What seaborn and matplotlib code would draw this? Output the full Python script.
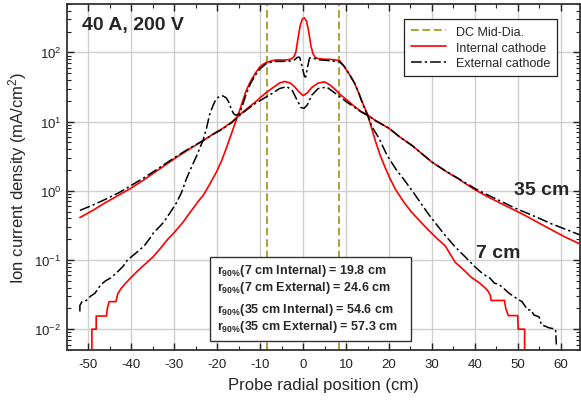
import numpy as np
import pandas as pd
import seaborn as sns
import matplotlib.pyplot as plt
from matplotlib.lines import Line2D
from matplotlib.patches import Rectangle
from matplotlib.ticker import MultipleLocator, LogLocator

# DC mid-diameter positions (cm)
dc_mid = [-8.4, 8.4]

# 7 cm, internal cathode
int7_x = [-49.2, -49.2, -48.2, -48.2, -45.8, -45.6, -45.2, -43.6, -43.2, -42.5, -41.5, -40.2,
          -38.5, -37.0, -35.0, -33.2, -31.5, -30.0, -28.0, -26.0, -24.0, -23.3, -22.0, -20.2,
          -19.0, -17.9, -17.0, -16.0, -15.0, -14.0, -13.3, -12.5, -11.8, -11.0, -10.2, -9.5,
          -8.7, -7.5, -6.4, -5.0, -4.0, -3.0, -2.2, -1.7, -1.2, -0.7, -0.2, 0.3, 0.8, 1.3,
          1.8, 2.3, 2.8, 3.5, 5.0, 6.2, 7.5, 8.5, 9.5, 10.8, 12.0, 13.1, 14.0, 15.0, 16.0,
          16.9, 18.0, 19.2, 20.3, 21.5, 23.5, 25.4, 27.3, 29.2, 31.0, 33.1, 35.4, 37.5, 39.2,
          41.0, 42.3, 43.0, 43.6, 43.8, 46.9, 47.2, 47.8, 50.0, 50.1, 51.6, 51.6]
int7_y = [0.004, 0.01, 0.01, 0.0155, 0.0155, 0.02, 0.025, 0.025, 0.032, 0.038, 0.045, 0.055,
          0.07, 0.085, 0.11, 0.148, 0.2, 0.25, 0.35, 0.52, 0.76, 0.85, 1.17, 1.86,
          2.7, 4.1, 5.9, 8.9, 13.2, 20.4, 27.5, 35.5, 42.7, 51.3, 60.3, 66.1,
          70.8, 75.0, 77.6, 77.6, 77.6, 79.4, 85.1, 100.0, 158.0, 240.0, 302.0, 316.0, 282.0, 200.0,
          126.0, 95.5, 85.1, 81.3, 79.4, 79.4, 77.6, 75.9, 63.1, 47.9, 35.5, 24.5, 17.8, 12.6, 7.9,
          5.1, 3.2, 2.1, 1.48, 1.05, 0.68, 0.48, 0.36, 0.27, 0.21, 0.16, 0.093, 0.071, 0.056,
          0.047, 0.04, 0.036, 0.031, 0.026, 0.026, 0.02, 0.0157, 0.0157, 0.01, 0.01, 0.004]

# 7 cm, external cathode
ext7_x = [-52.0, -52.0, -51.5, -50.5, -49.5, -48.5, -47.1, -46.0, -44.8, -43.5, -42.0, -40.9,
          -39.0, -37.0, -35.6, -34.8, -33.5, -32.5, -31.0, -29.5, -28.3, -27.2, -26.0, -24.8,
          -23.3, -22.5, -21.8, -21.0, -20.3, -19.5, -18.7, -17.9, -17.3, -16.8, -16.2, -15.6,
          -14.8, -14.0, -13.3, -12.2, -11.0, -10.0, -8.7, -7.5, -6.4, -5.0, -3.0, -2.0, -1.3,
          -0.8, -0.3, 0.3, 0.6, 1.0, 1.5, 2.0, 3.6, 5.0, 6.9, 8.5, 9.5, 10.8, 12.0, 13.1,
          14.0, 15.0, 16.0, 17.7, 19.5, 21.5, 23.5, 25.4, 27.3, 29.2, 31.0, 33.0, 35.4, 37.5,
          40.0, 42.0, 43.5, 44.6, 45.5, 46.9, 48.0, 49.0, 50.0, 51.0, 52.3, 53.0, 53.8, 55.0,
          55.5, 56.5, 57.2, 58.8, 59.0]
ext7_y = [0.018, 0.022, 0.025, 0.026, 0.03, 0.033, 0.044, 0.05, 0.055, 0.065, 0.08, 0.1,
          0.125, 0.16, 0.21, 0.25, 0.3, 0.35, 0.48, 0.67, 0.95, 1.48, 2.2, 3.2,
          5.4, 8.0, 12.5, 17.0, 21.0, 23.2, 23.5, 22.0, 19.0, 15.6, 13.0, 12.3,
          13.2, 18.0, 24.5, 36.0, 48.0, 58.0, 68.0, 72.0, 74.0, 74.0, 75.0, 78.0, 85.0,
          85.0, 65.0, 45.0, 44.0, 60.0, 83.0, 84.0, 78.0, 77.0, 75.0, 73.0, 64.0, 48.0, 36.0, 24.5,
          17.0, 12.5, 8.5, 5.7, 3.3, 2.1, 1.45, 1.0, 0.68, 0.46, 0.33, 0.23, 0.155, 0.115,
          0.08, 0.062, 0.055, 0.046, 0.045, 0.038, 0.033, 0.03, 0.027, 0.025, 0.019, 0.019, 0.016, 0.015,
          0.0115, 0.011, 0.0105, 0.01, 0.006]

# 35 cm, internal cathode
int35_x = [-52.0, -49.0, -46.3, -43.0, -40.0, -37.0, -34.0, -30.0, -26.5, -23.3, -20.5, -18.7,
           -16.5, -14.8, -13.0, -11.0, -8.7, -7.0, -5.5, -4.3, -3.0, -2.0, -1.0, 0.0, 1.0, 2.0,
           3.5, 5.0, 6.2, 7.5, 8.5, 10.0, 12.0, 13.5, 15.0, 17.0, 20.0, 22.5, 25.4, 27.5, 30.0,
           33.0, 36.2, 38.0, 40.1, 43.0, 46.0, 49.4, 52.0, 55.0, 58.0, 61.0, 64.5]
int35_y = [0.41, 0.52, 0.66, 0.86, 1.1, 1.45, 1.95, 2.9, 4.0, 5.3, 6.9, 8.0,
           10.0, 12.5, 15.5, 19.5, 26.0, 31.0, 36.0, 38.0, 36.0, 32.0, 27.0, 23.7, 26.0, 31.0,
           36.0, 37.5, 34.0, 29.0, 25.0, 21.0, 16.5, 14.0, 12.5, 10.2, 8.0, 6.0, 4.5, 3.5, 2.6,
           1.95, 1.48, 1.25, 1.03, 0.82, 0.66, 0.52, 0.43, 0.34, 0.27, 0.215, 0.17]

# 35 cm, external cathode
ext35_x = [-52.0, -49.0, -46.3, -43.0, -40.0, -37.0, -34.0, -30.0, -26.5, -23.3, -20.5, -18.7,
           -16.5, -14.8, -13.0, -11.0, -8.7, -7.0, -5.5, -3.8, -2.5, -1.5, -0.5, 0.2, 1.0, 2.0,
           3.5, 5.5, 7.0, 8.5, 10.0, 12.0, 13.5, 15.0, 17.0, 20.0, 22.5, 25.4, 27.5, 30.0, 33.0,
           36.2, 38.0, 40.1, 43.0, 46.0, 49.4, 52.0, 55.0, 58.0, 61.0, 64.5]
ext35_y = [0.52, 0.62, 0.74, 0.93, 1.2, 1.55, 2.05, 3.0, 4.1, 5.3, 6.8, 7.8,
           9.8, 12.3, 15.0, 18.5, 22.5, 26.0, 30.0, 32.0, 28.0, 21.0, 16.0, 15.5, 17.5, 24.0,
           30.0, 31.5, 27.0, 23.0, 19.5, 16.0, 13.8, 12.3, 10.2, 8.0, 6.0, 4.5, 3.5, 2.6, 1.97,
           1.5, 1.28, 1.07, 0.87, 0.71, 0.56, 0.48, 0.4, 0.33, 0.28, 0.23]

r90_lines = ["7 cm Internal) = 19.8 cm", "7 cm External) = 24.6 cm",
             "35 cm Internal) = 54.6 cm", "35 cm External) = 57.3 cm"]

sns.set_style("ticks")
plt.rcParams['font.family'] = ['Liberation Sans', 'DejaVu Sans']
plt.rcParams['mathtext.fontset'] = 'custom'
plt.rcParams['mathtext.rm'] = 'Liberation Sans'
plt.rcParams['mathtext.it'] = 'Liberation Sans:italic'
plt.rcParams['mathtext.bf'] = 'Liberation Sans:bold'
plt.rcParams['mathtext.default'] = 'regular'
plt.rcParams['axes.unicode_minus'] = False

fig = plt.figure(figsize=(5.81, 4.02), dpi=100)
ax = fig.add_axes([67 / 581, 1 - 351 / 402, 513 / 581, 346 / 402])

red = '#ff0000'
olive = '#8c8c00'
dashdot = (0, (7, 2, 1.5, 2))

for xv in dc_mid:
    ax.axvline(xv, color=olive, lw=1.1, linestyle=(0, (5, 2.5)), zorder=2)

sns.lineplot(x=int7_x, y=int7_y, ax=ax, color=red, lw=1.2, estimator=None, sort=False, zorder=3)
sns.lineplot(x=int35_x, y=int35_y, ax=ax, color=red, lw=1.2, estimator=None, sort=False, zorder=3)
sns.lineplot(x=ext7_x, y=ext7_y, ax=ax, color='black', lw=1.1, linestyle=dashdot,
             estimator=None, sort=False, zorder=4)
sns.lineplot(x=ext35_x, y=ext35_y, ax=ax, color='black', lw=1.1, linestyle=dashdot,
             estimator=None, sort=False, zorder=4)

ax.set_yscale('log')
ax.set_xlim(-55, 64.5)
ax.set_ylim(0.005, 500)
ax.xaxis.set_major_locator(MultipleLocator(10))
ax.xaxis.set_minor_locator(MultipleLocator(5))
ax.yaxis.set_major_locator(LogLocator(base=10))
ax.yaxis.set_minor_locator(LogLocator(base=10, subs=np.arange(2, 10)))
ax.grid(True, which='major', color='#cfcfcf', lw=1.0)
ax.set_axisbelow(True)

ax.tick_params(which='both', direction='in', top=True, right=True, labelsize=9.5,
               colors='#222222', labelcolor='#222222')
ax.tick_params(which='major', length=5, width=1)
ax.tick_params(which='minor', length=3, width=0.8)
ax.tick_params(axis='x', pad=6)
ax.tick_params(axis='y', pad=4)
for sp in ax.spines.values():
    sp.set_color('#333333')
    sp.set_linewidth(1.3)

ax.set_xlabel('Probe radial position (cm)', fontsize=12, labelpad=5)
ax.set_ylabel('Ion current density (mA/cm$^2$)', fontsize=12, labelpad=4)

ax.text(0.029, 0.94, '40 A, 200 V', transform=ax.transAxes, fontsize=14,
        fontweight='bold', va='center', ha='left')
ax.text(0.871, 0.463, '35 cm', transform=ax.transAxes, fontsize=14,
        fontweight='bold', va='center', ha='left', zorder=6)
ax.text(0.797, 0.282, '7 cm', transform=ax.transAxes, fontsize=14,
        fontweight='bold', va='center', ha='left', zorder=6)

handles = [Line2D([], [], color=olive, lw=1.1, linestyle=(0, (5, 2.5))),
           Line2D([], [], color=red, lw=1.2),
           Line2D([], [], color='black', lw=1.1, linestyle=dashdot)]
leg = ax.legend(handles, ['DC Mid-Dia.', 'Internal cathode', 'External cathode'],
                loc='upper right', bbox_to_anchor=(0.967, 0.975), fontsize=9,
                frameon=True, fancybox=False, framealpha=1, edgecolor='#222222',
                handlelength=2.8, borderpad=0.55, labelspacing=0.3, handletextpad=0.8)
leg.get_frame().set_linewidth(0.9)
leg.set_zorder(7)

box = Rectangle((0.279, 0.027), 0.391, 0.241, transform=ax.transAxes,
                facecolor='white', edgecolor='#333333', lw=1.0, zorder=8)
ax.add_patch(box)
for yy, line in zip([0.232, 0.183, 0.118, 0.068], r90_lines):
    ax.text(0.292, yy, r'r$_{\mathbf{90\%}}$(' + line, transform=ax.transAxes,
            fontsize=9, fontweight='bold', va='center', ha='left', zorder=9)

fig.savefig('out.png', dpi=100)
